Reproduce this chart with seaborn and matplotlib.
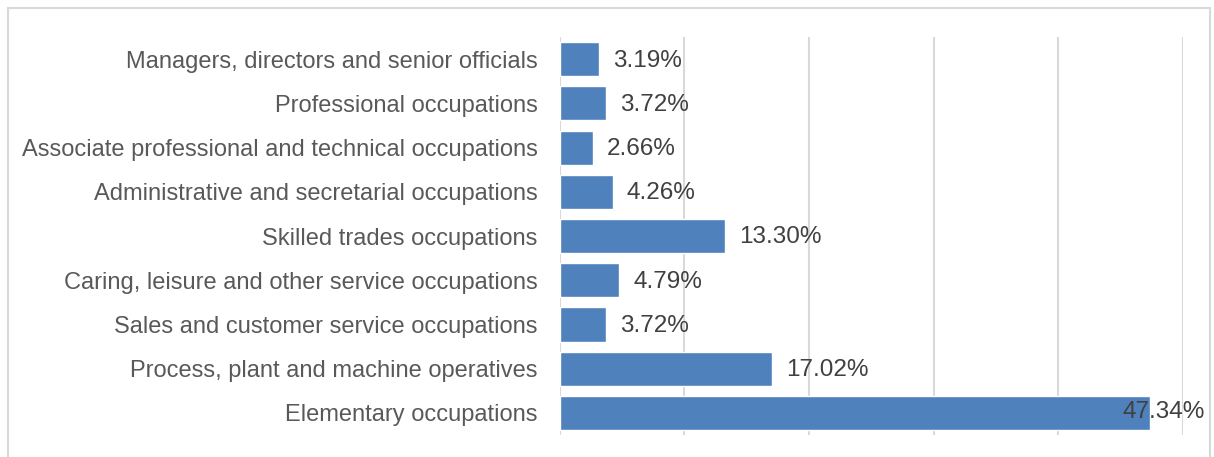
import matplotlib
matplotlib.use("Agg")
import matplotlib.pyplot as plt
import matplotlib.patches as mpatches
import seaborn as sns
import pandas as pd

occupations = [
    "Managers, directors and senior officials",
    "Professional occupations",
    "Associate professional and technical occupations",
    "Administrative and secretarial occupations",
    "Skilled trades occupations",
    "Caring, leisure and other service occupations",
    "Sales and customer service occupations",
    "Process, plant and machine operatives",
    "Elementary occupations",
]
shares = [3.19, 3.72, 2.66, 4.26, 13.30, 4.79, 3.72, 17.02, 47.34]

df = pd.DataFrame({"occupation": occupations, "share": shares})

sns.set_theme(style="white")
plt.rcParams["font.family"] = ["Liberation Sans", "DejaVu Sans"]

fig = plt.figure(figsize=(12.14, 4.57), dpi=100)
ax = fig.add_axes([0.461, 0.048, 0.5135, 0.871])

sns.barplot(data=df, y="occupation", x="share", color="#4F81BD",
            saturation=1, width=0.77, ax=ax)

ax.set_xlim(0, 50)
ax.set_ylim(8.5, -0.5)
ax.set_xticks([0, 10, 20, 30, 40, 50])
ax.set_xticklabels([])
ax.tick_params(axis="x", length=0)
ax.tick_params(axis="y", length=0, pad=16, labelsize=17, labelcolor="#595959")
ax.grid(axis="x", color="#D9D9D9", linewidth=1.5)
ax.set_axisbelow(True)
for s in ax.spines.values():
    s.set_visible(False)
ax.set_xlabel("")
ax.set_ylabel("")

for i, v in enumerate(shares):
    if v > 45:
        ax.annotate(f"{v:.2f}%", xy=(50, i), xytext=(16, 1), textcoords="offset points",
                    ha="right", va="center", fontsize=17.5, color="#404040",
                    annotation_clip=False)
    else:
        ax.annotate(f"{v:.2f}%", xy=(v, i), xytext=(10, -1), textcoords="offset points",
                    ha="left", va="center", fontsize=17.5, color="#404040")

# outer chart frame
fig.patches.append(mpatches.Rectangle((8 / 1214, -0.1), 1202 / 1214, 1.1 - 8 / 457,
                                      transform=fig.transFigure, fill=False,
                                      edgecolor="#D9D9D9", linewidth=1.5))

fig.savefig("out.png", dpi=100)
